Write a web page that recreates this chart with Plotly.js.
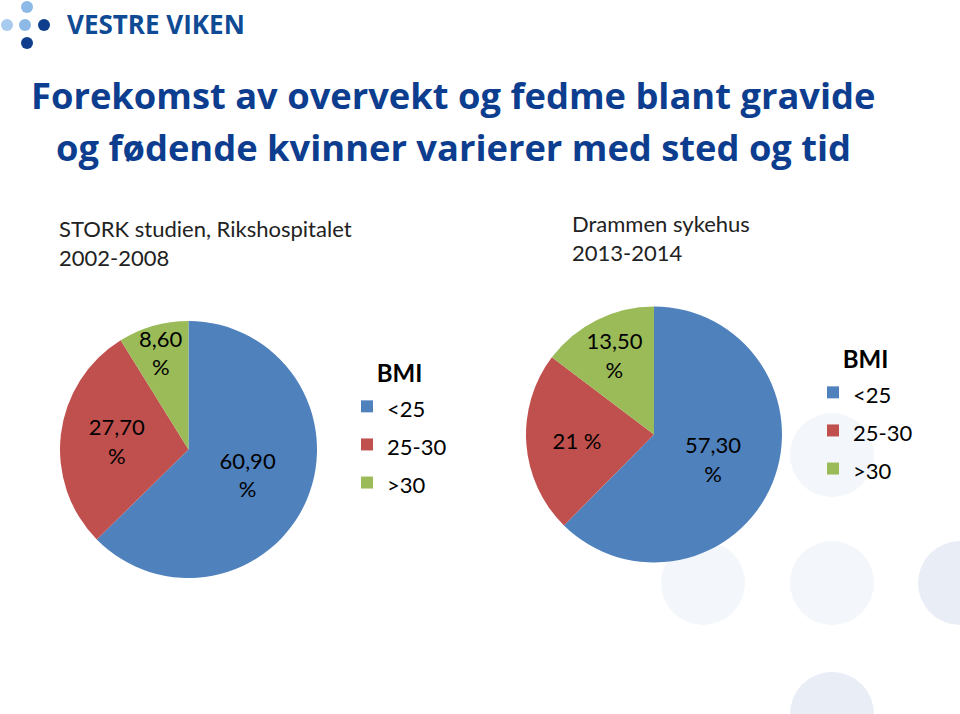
<!DOCTYPE html>
<html>
<head>
<meta charset="utf-8">
<script src="https://cdn.plot.ly/plotly-3.0.1.min.js"></script>
<style>html,body{margin:0;padding:0;background:#fff;}#chart{width:960px;height:714px;}</style>
</head>
<body>
<div id="chart"></div>
<script>
// ---- data ----
const categories = ['<25', '25-30', '>30'];
const storkValues = [60.9, 27.7, 8.6];
const drammenValues = [57.3, 21, 13.5];
const storkSubtitle = 'STORK studien, Rikshospitalet<br>2002-2008';
const drammenSubtitle = 'Drammen sykehus<br>2013-2014';
const titleLine1 = 'Forekomst av overvekt og fedme blant gravide';
const titleLine2 = 'og fødende kvinner varierer med sted og tid';
const legendTitle = 'BMI';
const logoText = 'VESTRE VIKEN';

const colors = ['#4F81BD', '#C0504D', '#9BBB59'];
const W = 960, H = 714;
const px = x => x / W;
const py = y => 1 - y / H;

function fmt(v) {
  if (Number.isInteger(v)) return v + ' %';
  return v.toFixed(2).replace('.', ',') + '<br>%';
}
// legend label: rendered at 22px inside a legend whose base font gives taller rows
// (style string differs per legend so the two pies keep separate legend entries)
function legendLabel(c, style) {
  return '<span style="' + style + '">' + c.replace('<', '&lt;').replace('>', '&gt;') + '</span>';
}

const labelFont = {family: 'Lato, "Open Sans", sans-serif', size: 22, color: '#000'};

const traces = [
  {
    type: 'pie', labels: categories.map(c => legendLabel(c, 'font-size:22px')), values: storkValues,
    text: storkValues.map(fmt), textinfo: 'text', textposition: 'inside',
    insidetextorientation: 'horizontal',
    sort: false, direction: 'clockwise', rotation: 0,
    marker: {colors: colors, line: {width: 0}},
    domain: {x: [px(60), px(317)], y: [py(578), py(321)]},
    textfont: labelFont, hoverinfo: 'label+value', legend: 'legend'
  },
  {
    type: 'pie', labels: categories.map(c => legendLabel(c, 'font-size: 22px')), values: drammenValues,
    text: drammenValues.map(fmt), textinfo: 'text', textposition: 'inside',
    insidetextorientation: 'horizontal',
    sort: false, direction: 'clockwise', rotation: 0,
    marker: {colors: colors, line: {width: 0}},
    domain: {x: [px(526), px(782)], y: [py(562.5), py(306.5)]},
    textfont: labelFont, hoverinfo: 'label+value', legend: 'legend2'
  }
];

function circle(cx, cy, r, color) {
  return {type: 'circle', xref: 'paper', yref: 'paper', layer: 'below',
    x0: px(cx - r), x1: px(cx + r), y0: py(cy + r), y1: py(cy - r),
    fillcolor: color, line: {width: 0}};
}

const shapes = [
  circle(703, 583, 42, '#f3f6fb'),
  circle(832, 583, 42, '#f3f6fb'),
  circle(960, 583, 42, '#e9edf6'),
  circle(832, 714, 42, '#e9edf6'),
  circle(832, 455, 42, '#f3f6fb'),
  // logo dots
  circle(27, 7, 6, '#8db9e6'),
  circle(7, 25, 6, '#a9cbee'),
  circle(25, 25, 6, '#8db9e6'),
  circle(44, 25, 6, '#0f3f8c'),
  circle(27, 43, 6, '#0f3f8c')
];

const titleFont = {family: '"Open Sans", Lato, sans-serif', size: 36.3, color: '#0c3d8e', weight: 700};
const subFont = {family: 'Lato, "Open Sans", sans-serif', size: 22, color: '#222'};

const annotations = [
  {text: '<b>' + logoText + '</b>', x: px(65), y: py(24), xanchor: 'left', yanchor: 'middle',
    xref: 'paper', yref: 'paper', showarrow: false,
    font: {family: '"Open Sans", Lato, sans-serif', size: 26, color: '#0f4a95'}},
  {text: '<b>' + titleLine1 + '</b>', x: px(453), y: py(95), xanchor: 'center', yanchor: 'middle',
    xref: 'paper', yref: 'paper', showarrow: false, font: titleFont},
  {text: '<b>' + titleLine2 + '</b>', x: px(453), y: py(147), xanchor: 'center', yanchor: 'middle',
    xref: 'paper', yref: 'paper', showarrow: false, font: titleFont},
  {text: storkSubtitle, x: px(57), y: py(213), xanchor: 'left', yanchor: 'top', align: 'left',
    xref: 'paper', yref: 'paper', showarrow: false, font: subFont},
  {text: drammenSubtitle, x: px(570), y: py(208), xanchor: 'left', yanchor: 'top', align: 'left',
    xref: 'paper', yref: 'paper', showarrow: false, font: subFont}
];

const legendCommon = {
  font: {family: 'Lato, "Open Sans", sans-serif', size: 27, color: '#000'},
  bgcolor: 'rgba(0,0,0,0)', orientation: 'v', xanchor: 'left', yanchor: 'top',
  itemclick: false, itemdoubleclick: false
};
const legendTitleCfg = {text: '<b><span style="font-size:24px">' + legendTitle + '</span></b>', side: 'top center',
  font: {family: 'Lato, sans-serif', size: 31, color: '#000'}};

const layout = {
  width: W, height: H,
  margin: {l: 0, r: 0, t: 0, b: 0},
  paper_bgcolor: '#fff', plot_bgcolor: '#fff',
  showlegend: true,
  shapes: shapes,
  annotations: annotations,
  legend: Object.assign({}, legendCommon, {x: px(347), y: py(342), title: legendTitleCfg}),
  legend2: Object.assign({}, legendCommon, {x: px(813), y: py(328), title: legendTitleCfg}),
  uniformtext: {mode: 'show', minsize: 22}
};

Plotly.newPlot('chart', traces, layout, {displayModeBar: false, staticPlot: true});
</script>
</body>
</html>
